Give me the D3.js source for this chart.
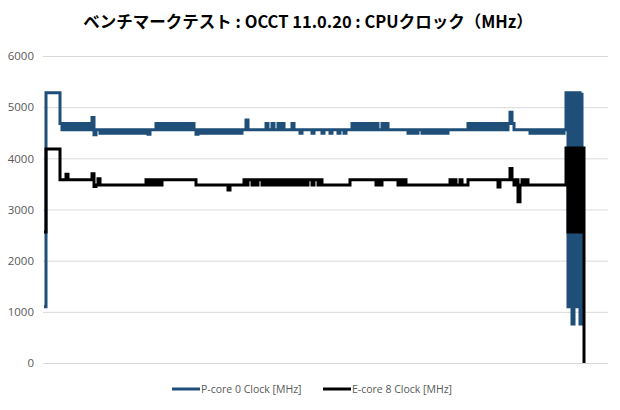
<!DOCTYPE html>
<html>
<head>
<meta charset="utf-8">
<script src="https://cdn.jsdelivr.net/npm/d3@7"></script>
<style>
  body { margin: 0; background: #fff; }
  svg { display: block; }
</style>
</head>
<body>
<svg id="chart" width="620" height="410"></svg>
<script>
var title = "ベンチマークテスト : OCCT 11.0.20 : CPUクロック（MHz）"
var seriesNames = ["P-core 0 Clock [MHz]", "E-core 8 Clock [MHz]"]
var yTicks = [0, 1000, 2000, 3000, 4000, 5000, 6000]

// one sample every step
var pCore = [
  1100,5280,5280,5280,5280,5280,5280,5280,4680,4560,
  4680,4560,4680,4560,4680,4560,4680,4560,4680,4560,
  4680,4560,4680,4560,4800,4460,4560,4560,4490,4560,
  4490,4560,4490,4560,4490,4560,4490,4560,4490,4560,
  4490,4560,4490,4560,4490,4560,4490,4560,4490,4560,
  4490,4560,4470,4560,4560,4560,4680,4560,4680,4560,
  4680,4560,4680,4560,4680,4560,4680,4560,4680,4560,
  4680,4560,4680,4560,4680,4560,4470,4560,4490,4560,
  4490,4560,4490,4560,4490,4560,4490,4560,4490,4560,
  4490,4560,4490,4560,4490,4560,4490,4560,4490,4560,
  4560,4750,4560,4560,4560,4560,4560,4560,4560,4560,
  4560,4680,4560,4560,4680,4560,4560,4680,4560,4680,
  4560,4560,4560,4560,4680,4560,4560,4560,4490,4560,
  4560,4560,4560,4560,4490,4560,4560,4560,4560,4490,
  4560,4560,4560,4490,4560,4560,4560,4490,4560,4560,
  4490,4560,4560,4560,4680,4560,4680,4560,4680,4560,
  4680,4560,4680,4560,4680,4560,4680,4560,4560,4680,
  4560,4680,4560,4560,4560,4560,4560,4560,4560,4560,
  4560,4560,4490,4560,4490,4560,4490,4560,4560,4490,
  4560,4490,4560,4490,4560,4490,4560,4490,4560,4490,
  4560,4490,4560,4560,4560,4560,4560,4560,4560,4560,
  4560,4560,4680,4560,4680,4560,4680,4560,4680,4560,
  4680,4560,4680,4560,4680,4560,4680,4560,4680,4560,
  4680,4560,4680,4900,4680,4560,4560,4560,4560,4560,
  4560,4560,4560,4490,4560,4490,4560,4490,4560,4490,
  4560,4490,4560,4490,4560,4490,4560,4490,4560,4490,
  4560,5280,1100,5280,760,5280,1100,5280,760,5280
]

var eCore = [
  2560,4180,4180,4180,4180,4180,4180,4180,3580,3580,
  3580,3690,3580,3580,3580,3580,3580,3580,3580,3580,
  3580,3580,3580,3580,3700,3450,3480,3600,3480,3480,
  3480,3480,3480,3480,3480,3480,3480,3480,3480,3480,
  3480,3480,3480,3480,3480,3480,3480,3480,3480,3480,
  3480,3580,3480,3580,3480,3580,3480,3580,3480,3580,
  3580,3580,3580,3580,3580,3580,3580,3580,3580,3580,
  3580,3580,3580,3580,3580,3580,3480,3480,3480,3480,
  3480,3480,3480,3480,3480,3480,3480,3480,3480,3480,
  3480,3480,3380,3480,3480,3480,3480,3480,3480,3480,
  3580,3480,3580,3580,3480,3580,3480,3580,3580,3480,
  3580,3480,3580,3480,3580,3480,3580,3480,3580,3480,
  3580,3480,3580,3480,3580,3480,3580,3480,3580,3480,
  3580,3480,3580,3580,3480,3580,3580,3480,3580,3480,
  3480,3480,3480,3480,3480,3480,3480,3480,3480,3480,
  3480,3480,3480,3580,3580,3580,3580,3580,3580,3580,
  3580,3580,3580,3580,3580,3580,3480,3580,3480,3580,
  3580,3580,3580,3580,3580,3580,3580,3480,3580,3480,
  3580,3480,3480,3480,3480,3480,3480,3480,3480,3480,
  3480,3480,3480,3480,3480,3480,3480,3480,3480,3480,
  3480,3480,3480,3580,3480,3580,3480,3480,3580,3480,
  3480,3480,3580,3580,3580,3580,3580,3580,3580,3580,
  3580,3580,3580,3580,3580,3580,3580,3440,3580,3580,
  3580,3580,3580,3800,3580,3480,3580,3150,3480,3580,
  3480,3580,3480,3480,3480,3480,3480,3480,3480,3480,
  3480,3480,3480,3480,3480,3480,3480,3480,3480,3480,
  3480,4200,2560,4200,2560,4200,2560,4200,2560,4200,
  0
]

var colors = ["#1f4e79", "#000000"]

var svg = d3.select("#chart")

var x = d3.scaleLinear().domain([0, 270]).range([44, 584])
var y = d3.scaleLinear().domain([0, 6000]).range([363, 56])

// gridlines
svg.append("g").selectAll("line")
  .data(yTicks)
  .enter().append("line")
  .attr("x1", 43).attr("x2", 608)
  .attr("y1", function(d){ return y(d) + 0.5 })
  .attr("y2", function(d){ return y(d) + 0.5 })
  .style("stroke", "#d9d9d9")
  .style("stroke-width", 1)

// y axis labels
var yAxis = d3.axisLeft(y).tickValues(yTicks).tickFormat(d3.format("d")).tickSize(0).tickPadding(9)
var gy = svg.append("g").attr("transform", "translate(43,0)").call(yAxis)
gy.select(".domain").remove()
gy.selectAll("text")
  .style("font-family", "'Open Sans', 'Noto Sans', sans-serif")
  .style("font-size", "11.5px")
  .style("fill", "#595959")

var line = d3.line()
  .x(function(d, i){ return x(i) })
  .y(function(d){ return y(d) })
  .curve(d3.curveStepAfter)

;[pCore, eCore].forEach(function(s, k){
  svg.append("path")
    .datum(s)
    .attr("d", line)
    .style("fill", "none")
    .style("stroke", colors[k])
    .style("stroke-width", 3)
    .style("stroke-linejoin", "miter")
})

// title
svg.append("text")
  .attr("x", 308).attr("y", 28)
  .attr("text-anchor", "middle")
  .style("font-family", "'Noto Sans CJK JP', sans-serif")
  .style("font-weight", "bold")
  .style("font-size", "16.5px")
  .style("fill", "#000")
  .text(title)

// legend
var legendX = [172, 323]
seriesNames.forEach(function(n, k){
  svg.append("line")
    .attr("x1", legendX[k]).attr("x2", legendX[k] + 28)
    .attr("y1", 389).attr("y2", 389)
    .style("stroke", colors[k])
    .style("stroke-width", 3)
  svg.append("text")
    .attr("x", legendX[k] + 29).attr("y", 393)
    .style("font-family", "'Open Sans', 'Noto Sans', sans-serif")
    .style("font-size", "10.5px")
    .style("fill", "#595959")
    .text(n)
})
</script>
</body>
</html>
